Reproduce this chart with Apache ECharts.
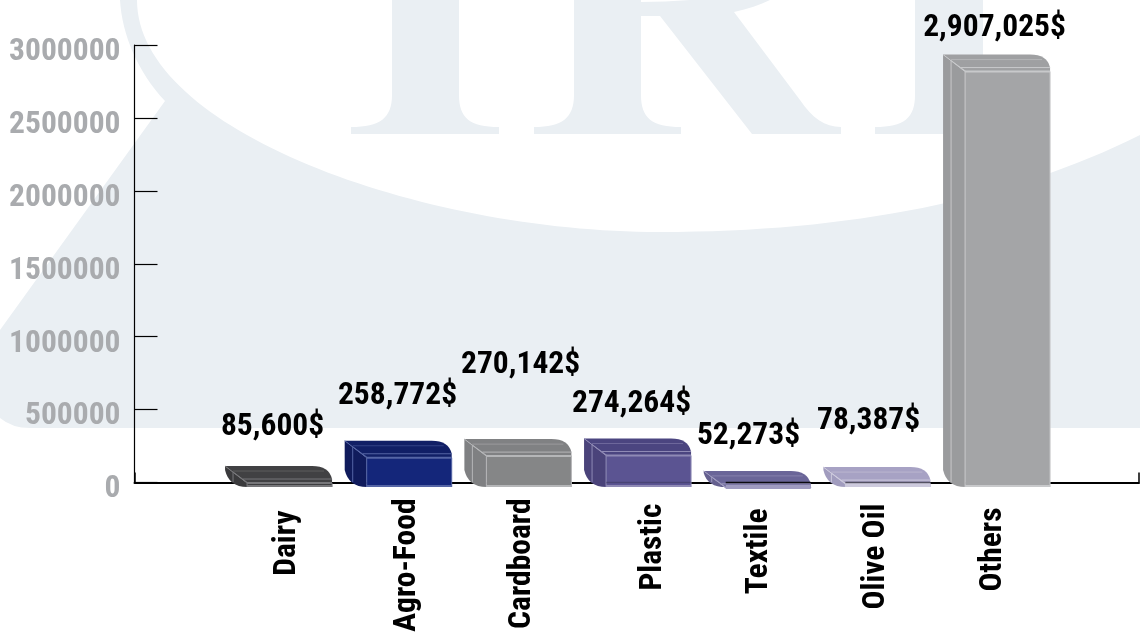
<!DOCTYPE html>
<html>
<head>
<meta charset="utf-8">
<style>
  html, body { margin: 0; padding: 0; background: #fff; }
  #draw { width: 1140px; height: 633px; }
</style>
</head>
<body>
<div id="draw"></div>
<script src="https://cdn.jsdelivr.net/npm/echarts@6/dist/echarts.min.js"></script>
<script>
const categories = ["Dairy", "Agro-Food", "Cardboard", "Plastic", "Textile", "Olive Oil", "Others"];
const values = [85600, 258772, 270142, 274264, 52273, 78387, 2907025];
const tickLabels = ["0", "500000", "1000000", "1500000", "2000000", "2500000", "3000000"];

// bar colours: front, top, side, highlight
const barFront = ["#3d3d3f", "#14267a", "#858687", "#5b5492", "#6d68a0", "#aba6c8", "#a4a5a7"];
const barTop = ["#414143", "#111f66", "#808183", "#4b4580", "#6a6598", "#a7a2c4", "#9fa0a2"];
const barSide = ["#3a3a3c", "#101b5c", "#7f8082", "#4a437a", "#65608f", "#a19cbe", "#9a9b9d"];
const barEdge = ["#77777a", "#5565a5", "#b5b6b8", "#8f8ab5", "#9f9bc0", "#cdcadd", "#c8c9cb"];
const axisShowThrough = [0, 0, 0, 0.2, 0.9, 0.5, 0];

// value labels sit by hand in the original, so they keep their own shifts
const labelShiftX = [-17, -11.7, -8.3, -17, -19.7, -19.3, -13];
const labelShiftY = [-43, -48.5, -78, -38, -38.5, -49.5, -30];
// category labels do not line up either
const catPadRight = [12, 0, 0, 5, 10, 5, 9];
const catShift = [-2.5, -2, -6.5, 5, -9, -12, -14];

const font = '"Roboto Condensed", "Liberation Sans", sans-serif';
const paleColor = "#eaeff3";

const watermark = [
  "M120 0 C122 35 138 72 165 101 L0 330 L0 418 Q12 428 30 428 L1140 428 L1140 135 C1010 200 850 232 660 232 C420 232 137 130 137 0 Z",
  "M392 0 L459 0 L459 95 C459 118 470 127 499 127 L499 134 L351 134 L351 127 C380 127 392 118 392 95 Z",
  "M574 0 L574 95 C574 118 562 127 534 127 L534 134 L681 134 L681 127 C652 127 641 118 641 95 L641 16 L660 16 L752 134 L841 134 L841 127 C825 127 812 118 800 100 L734 12 C748 9 760 5 770 0 L690 0 Q665 2 641 2 L641 0 Z",
  "M915 0 L983 0 L983 95 C983 118 994 127 1023 127 L1023 134 L875 134 L875 127 C904 127 915 118 915 95 Z"
];

function renderWatermark() {
  return {
    type: "group",
    children: watermark.map(function (d) {
      return { type: "path", shape: { pathData: d }, style: { fill: paleColor } };
    })
  };
}

function renderBar(params, api) {
  const i = api.value(0);
  const top = api.coord([i, api.value(1)]);
  const zero = api.coord([i, 0]);
  const fx0 = top[0] - 42.5, fx1 = top[0] + 42.5;
  const bx = fx0 - 22;
  const bt = top[1] - 4;
  const ft = bt + 17;
  const fb = zero[1] + 4.5;
  const sideY = Math.max(bt + 2, fb - 17);
  const edge = { stroke: barEdge[i], lineWidth: 1, fill: "none" };

  const side = "M" + bx + " " + bt + " L" + fx0 + " " + ft + " L" + fx0 + " " + fb +
    " Q" + (bx + 4) + " " + fb + " " + bx + " " + sideY + " Z";
  const topFace = "M" + bx + " " + bt + " L" + (fx1 - 20) + " " + bt +
    " Q" + (fx1 - 3) + " " + bt + " " + fx1 + " " + (ft - 4) + " L" + fx1 + " " + ft + " L" + fx0 + " " + ft + " Z";
  const inner = "M" + (bx + 8) + " " + (bt + 6) + " L" + (bx + 8) + " " + (fb - 5) +
    " M" + (bx + 8) + " " + (bt + 6) + " L" + (fx0 + 1) + " " + ft +
    " M" + (fx0 - 4) + " " + (bt + 13) + " L" + fx1 + " " + (bt + 13);

  const children = [
    { type: "path", shape: { pathData: side }, style: { fill: barSide[i] } },
    { type: "path", shape: { pathData: topFace }, style: { fill: barTop[i] } },
    { type: "rect", shape: { x: fx0, y: ft, width: 85, height: fb - ft }, style: { fill: barFront[i] } },
    { type: "path", shape: { pathData: inner }, style: edge },
    { type: "line", shape: { x1: bx, y1: bt, x2: fx0, y2: ft }, style: edge },
    { type: "line", shape: { x1: bx + 8, y1: bt + 5, x2: fx1 - 8, y2: bt + 5 }, style: { stroke: barEdge[i], lineWidth: 1, opacity: 0.5 } },
    { type: "line", shape: { x1: fx0, y1: ft, x2: fx1, y2: ft }, style: { stroke: barEdge[i], lineWidth: 2 } },
    { type: "line", shape: { x1: fx0, y1: ft, x2: fx0, y2: fb }, style: edge },
    { type: "line", shape: { x1: fx1, y1: ft, x2: fx1, y2: fb }, style: edge },
    { type: "line", shape: { x1: fx0, y1: fb - 1, x2: fx1, y2: fb - 1 }, style: { stroke: barEdge[i], lineWidth: 2 } }
  ];
  if (axisShowThrough[i] > 0) {
    children.push({
      type: "line",
      shape: { x1: fx0, y1: zero[1], x2: fx1, y2: zero[1] },
      style: { stroke: "#000", lineWidth: 1.5, opacity: axisShowThrough[i] }
    });
  }
  children.push({
    type: "text",
    style: {
      text: api.value(1).toLocaleString("en-US") + "$",
      x: top[0] + labelShiftX[i],
      y: top[1] + labelShiftY[i],
      align: "center",
      verticalAlign: "middle",
      fill: "#000",
      font: "bold 31.5px " + font
    }
  });
  return { type: "group", children: children };
}

const chart = echarts.init(document.getElementById("draw"));
const option = {
  animation: false,
  grid: [
    { left: 134.5, right: 1, top: 45, height: 437.5, outerBoundsMode: "none" },
    { left: 229.7, width: 837.7, top: 45, height: 437.5, outerBoundsMode: "none" }
  ],
  xAxis: [
    {
      gridIndex: 0, type: "value", min: 0, max: 1, interval: 1,
      splitLine: { show: false },
      axisLabel: { show: false },
      axisLine: { show: true, onZero: false, lineStyle: { color: "#000", width: 2 } },
      axisTick: { show: true, inside: true, length: 10, lineStyle: { color: "#000", width: 1.5 } }
    },
    {
      gridIndex: 1, type: "category",
      data: categories.map(function (c, i) {
        const s = catShift[i];
        return {
          value: c,
          textStyle: {
            padding: [0, catPadRight[i], 0, 0],
            verticalAlign: s < 0 ? "bottom" : "top",
            lineHeight: Math.abs(s) * 2
          }
        };
      }),
      axisLine: { show: false },
      axisTick: { show: false },
      axisLabel: {
        interval: 0, rotate: 90, margin: 16,
        color: "#000", fontFamily: font, fontWeight: "bold", fontSize: 31.5
      }
    }
  ],
  yAxis: [
    {
      gridIndex: 0, type: "value", min: 0, max: 3000000, interval: 500000,
      splitLine: { show: false },
      axisLine: { show: true, lineStyle: { color: "#000", width: 1.2 } },
      axisTick: { show: true, inside: true, length: 23, lineStyle: { color: "#000", width: 1.2 } },
      axisLabel: {
        margin: 14, color: "#a9abae", fontFamily: font, fontWeight: "bold", fontSize: 31.5,
        verticalAlign: "top", lineHeight: 14,
        formatter: function (v) { return tickLabels[v / 500000]; }
      }
    },
    {
      gridIndex: 1, type: "value", min: 0, max: 3000000, show: false,
      splitLine: { show: false }
    }
  ],
  series: [
    {
      type: "custom",
      coordinateSystem: "none",
      silent: true,
      z: -10,
      renderItem: renderWatermark,
      data: [0]
    },
    {
      type: "custom",
      xAxisIndex: 1,
      yAxisIndex: 1,
      clip: false,
      z: 5,
      renderItem: renderBar,
      encode: { x: 0, y: 1 },
      data: values.map(function (v, i) { return [i, v]; })
    }
  ]
};
chart.setOption(option);
</script>
</body>
</html>
